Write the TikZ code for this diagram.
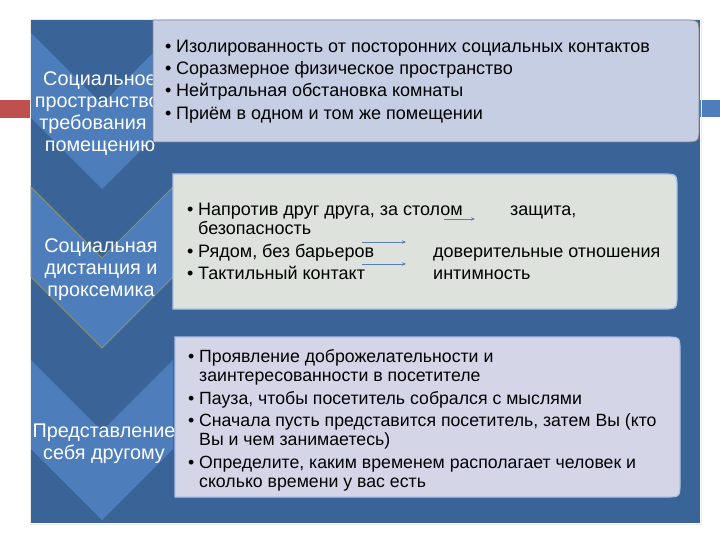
\documentclass[tikz,border=0pt]{standalone}
\usepackage{fontspec}
\setmainfont{Liberation Sans}
\usetikzlibrary{arrows.meta}
\definecolor{bgblue}{HTML}{3A6397}
\definecolor{chev}{HTML}{4D7EBB}
\definecolor{chevline}{HTML}{8E9170}
\definecolor{boxa}{HTML}{C6CEE3}
\definecolor{boxb}{HTML}{DDE2DC}
\definecolor{boxc}{HTML}{D4D6E8}
\definecolor{boxline}{HTML}{A9C2E4}
\definecolor{arrowc}{HTML}{5B7DB1}
\definecolor{redbar}{HTML}{C0504D}
\newcommand\bul{\makebox[11pt][l]{•}}
\begin{document}
\begin{tikzpicture}[x=1pt,y=-1pt,
  lefttxt/.style={text=white,font=\fontsize{19.8}{22}\selectfont,anchor=base,inner sep=0pt},
  righttxt/.style={text=black,font=\fontsize{18}{22}\selectfont,anchor=base west,inner sep=0pt},
  smalltxt/.style={text=black,font=\fontsize{17.7}{21}\selectfont,anchor=base west,inner sep=0pt},
  chevshape/.style={fill=chev},
  arr/.style={draw=arrowc,line width=0.9pt,-{Stealth[length=4pt,width=3.5pt]}}]
\useasboundingbox (0,0) rectangle (720,540);
% side bars
\fill[redbar] (0,100) rectangle (31,118);
\fill[chev] (700,100) rectangle (720,117);
% background
\fill[bgblue] (31,20) rectangle (700,523);
\draw[color=black!8,line width=0.8pt] (30,19) rectangle (701,524);
% chevrons
\fill[chevshape] (31,33) -- (102,104) -- (173,33) -- (173,118) -- (102,189) -- (31,118) -- cycle;
\filldraw[chevshape,draw=chevline,line width=1pt] (31,187) -- (102,258) -- (173,187) -- (173,277) -- (102,348) -- (31,277) -- cycle;
\fill[chevshape] (31,360) -- (102,431) -- (173,360) -- (173,449) -- (102,520) -- (31,449) -- cycle;
% left texts
\begin{scope}
\clip (31,20) rectangle (158,523);
\node[lefttxt] (l1a) at (100,86) {Социальное};
\node[lefttxt] (l1b) at (100,108) {пространство,};
\node[lefttxt] (l1c) at (100,130) {требования к};
\node[lefttxt] (l1d) at (100,152) {помещению};
\end{scope}
\node[lefttxt] (l2a) at (101,252) {Социальная};
\node[lefttxt] (l2b) at (101,274) {дистанция и};
\node[lefttxt] (l2c) at (101,296) {проксемика};
\node[lefttxt] (l3a) at (104,437) {Представление};
\node[lefttxt] (l3b) at (104,459) {себя другому};
% boxes
\filldraw[fill=boxa,draw=black!35!boxa,line width=0.8pt]
  (153,20) -- (684,20) .. controls (699,20) .. (699,35) -- (699,127)
  .. controls (699,142) .. (684,142) -- (153,142) -- cycle;
\filldraw[fill=boxb,draw=boxline,line width=1.2pt]
  (173,174) -- (662,174) .. controls (677,174) .. (677,189) -- (677,294)
  .. controls (677,309) .. (662,309) -- (173,309) -- cycle;
\filldraw[fill=boxc,draw=boxline,line width=1.2pt]
  (175,337) -- (665,337) .. controls (680,337) .. (680,352) -- (680,482)
  .. controls (680,497) .. (665,497) -- (175,497) -- cycle;
% box 1 texts
\node[righttxt] (a1) at (165,53) {\bul Изолированность от посторонних социальных контактов};
\node[righttxt] (a2) at (165,75) {\bul Соразмерное физическое пространство};
\node[righttxt] (a3) at (165,97) {\bul Нейтральная обстановка комнаты};
\node[righttxt] (a4) at (165,120) {\bul Приём в одном и том же помещении};
% box 2 texts
\node[righttxt] (b1) at (187,215) {\bul Напротив друг друга, за столом};
\node[righttxt] (b1r) at (510,215) {защита,};
\node[righttxt] (b2) at (198,235) {безопасность};
\node[righttxt] (b3) at (187,257) {\bul Рядом, без барьеров};
\node[righttxt] (b3r) at (433,257) {доверительные отношения};
\node[righttxt] (b4) at (187,279) {\bul Тактильный контакт};
\node[righttxt] (b4r) at (433,279) {интимность};
\coordinate (p1s) at (444,219); \coordinate (p1e) at (475,219);
\coordinate (p2s) at (362,242); \coordinate (p2e) at (406,242);
\coordinate (p3s) at (362,264); \coordinate (p3e) at (406,264);
\draw[arr] (p1s) -- (p1e);
\draw[arr] (p2s) -- (p2e);
\draw[arr] (p3s) -- (p3e);
% box 3 texts
\node[smalltxt] (c1) at (188,362) {\bul Проявление доброжелательности и};
\node[smalltxt] (c2) at (199,381) {заинтересованности в посетителе};
\node[smalltxt] (c3) at (188,404) {\bul Пауза, чтобы посетитель собрался с мыслями};
\node[smalltxt] (c4) at (188,426) {\bul Сначала пусть представится посетитель, затем Вы (кто};
\node[smalltxt] (c5) at (199,445) {Вы и чем занимаетесь)};
\node[smalltxt] (c6) at (188,468) {\bul Определите, каким временем располагает человек и};
\node[smalltxt] (c7) at (199,487) {сколько времени у вас есть};
\end{tikzpicture}
\end{document}
